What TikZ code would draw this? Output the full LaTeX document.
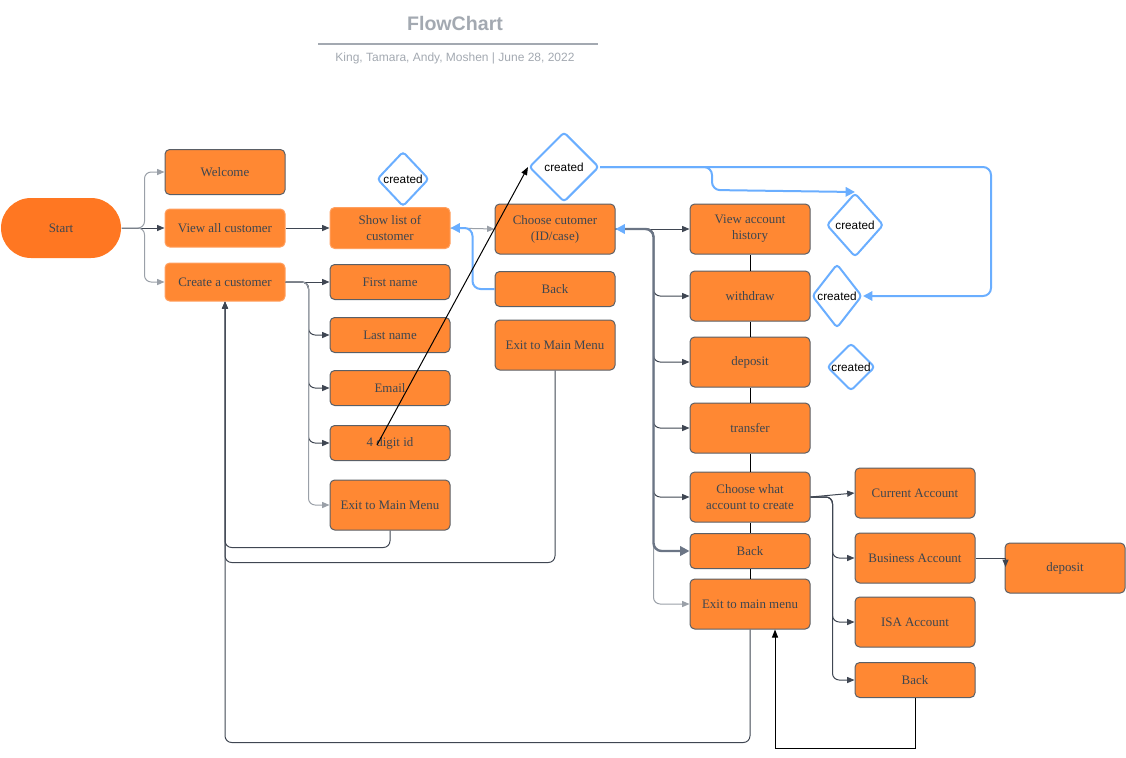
\documentclass[tikz,border=0pt]{standalone}
\usepackage{fontspec}
\setmainfont{Liberation Serif}
\newfontfamily\arialf{Liberation Sans}
\usetikzlibrary{arrows.meta,shapes.geometric}
\definecolor{orf}{HTML}{FF8833}
\definecolor{orl}{HTML}{FFA060}
\definecolor{stf}{HTML}{FF7722}
\definecolor{bd}{HTML}{5A5F66}
\definecolor{txt}{HTML}{3D4650}
\definecolor{lb}{HTML}{6AAEFF}
\definecolor{gl}{HTML}{9AA0A8}
\definecolor{dl}{HTML}{3F4652}
\definecolor{sl}{HTML}{6B7585}
\definecolor{ttl}{HTML}{A3A9B1}
\begin{document}
\begin{tikzpicture}[x=0.75pt,y=-0.75pt,
  box/.style={rectangle, rounded corners=3.5pt, fill=orf, draw=bd, line width=0.75pt,
    minimum width=90pt, minimum height=37.5pt, inner sep=1pt, align=center, text=txt,
    font=\fontsize{9.7}{12}\selectfont},
  lbox/.style={box, draw=orl},
  dia/.style={diamond, draw=lb, line width=1.5pt, rounded corners=2.5pt, fill=white,
    inner sep=0pt, text=black, font=\arialf\fontsize{8.8}{10}\selectfont},
  tip/.style={-{Triangle[length=5.5pt,width=4.5pt]}},
  dconn/.style={tip, draw=dl, line width=0.75pt, rounded corners=5pt},
  gconn/.style={tip, draw=gl, line width=0.75pt, rounded corners=5pt},
  bconn/.style={-{Triangle[length=7pt,width=7pt]}, draw=lb, line width=1.5pt, rounded corners=6pt},
  kline/.style={draw=black, line width=0.75pt}
]
\useasboundingbox (0,0) rectangle (1126,757);

% title
\node[font=\arialf\bfseries\fontsize{14.7}{16}\selectfont, text=ttl] (title) at (455,23) {FlowChart};
\draw[draw=ttl, line width=1pt] (318,44) -- (598,44);
\node[font=\arialf\fontsize{9}{10}\selectfont, text=ttl] (sub) at (455,58) {King, Tamara, Andy, Moshen | June 28, 2022};

% left part
\node[box, fill=stf, draw=none, rounded corners=22.5pt, minimum height=45pt] (Start) at (61,228) {Start};
\node[box, minimum height=33.75pt] (Welcome) at (225,172) {Welcome};
\node[lbox, minimum height=28.5pt] (View) at (225,228) {View all customer};
\node[lbox, minimum height=28.5pt] (Create) at (225,282) {Create a customer};
\node[lbox, minimum height=30.75pt] (Show) at (390,228) {Show list of\\customer};
\node[box, minimum height=26.25pt] (First) at (390,282) {First name};
\node[box, minimum height=26.25pt] (Last) at (390,335) {Last name};
\node[box, minimum height=26.25pt] (Email) at (390,388) {Email};
\node[box, minimum height=26.25pt] (Id) at (390,443) {4 digit id};
\node[box] (ExitA) at (390,505) {Exit to Main Menu};

% middle
\node[box] (Choose) at (555,229) {Choose cutomer\\(ID/case)};
\node[box, minimum height=26.25pt] (BackM) at (555,289) {Back};
\node[box] (ExitB) at (555,345) {Exit to Main Menu};

% right column
\node[box] (Hist) at (750,229) {View account\\history};
\node[box] (Withdraw) at (750,296) {withdraw};
\node[box] (Deposit) at (750,362) {deposit};
\node[box] (Transfer) at (750,428) {transfer};
\node[box] (ChooseW) at (750,497) {Choose what\\account to create};
\node[box, minimum height=26.25pt] (BackR) at (750,551) {Back};
\node[box] (ExitC) at (750,604) {Exit to main menu};

% accounts
\node[box] (Cur) at (915,493) {Current Account};
\node[box] (Bus) at (915,558) {Business Account};
\node[box] (Isa) at (915,622) {ISA Account};
\node[box, minimum height=26.25pt] (BackA) at (915,680) {Back};
\node[box] (DepB) at (1065,568) {deposit};

% diamonds
\node[dia, minimum width=39pt, minimum height=41.25pt] (Cr1) at (403,179) {created};
\node[dia, minimum width=52.5pt, minimum height=52.5pt] (Cr2) at (564,167) {created};
\node[dia, minimum width=42.75pt, minimum height=48pt] (Cr3) at (855,225) {created};
\node[dia, minimum width=37.5pt, minimum height=48pt] (Cr4) at (837,296) {created};
\node[dia, minimum width=36pt, minimum height=27pt] (Cr5) at (851,367) {created};

% start forks
\draw[gconn] (Start.east) -- ++(23,0) |- (Welcome.west);
\draw[dconn] (Start.east) -- (View.west);
\draw[gconn] (Start.east) -- ++(23,0) |- (Create.west);
\draw[dconn] (View.east) -- (Show.west);

% create forks
\draw[dconn] (Create.east) -- (First.west);
\draw[dconn] (Create.east) -- ++(23,0) |- (Last.west);
\draw[dconn] (Create.east) -- ++(23,0) |- (Email.west);
\draw[dconn] (Create.east) -- ++(23,0) |- (Id.west);
\draw[gconn] (Create.east) -- ++(23,0) |- (ExitA.west);

% loops back to create
\draw[dconn] (ExitA.south) -- ++(0,17) -| (Create.south);
\draw[dconn] (ExitB.south) -- ++(0,192) -| (Create.south);
\draw[dconn] (ExitC.south) -- ++(0,113) -| (Create.south);

% show list <-> choose
\draw[gconn] (Show.east) -- (Choose.west);
\draw[bconn] (BackM.west) -- ++(-22,0) |- (Show.east);

% 4 digit id to created
\draw[kline, -{Triangle[length=6pt,width=4.5pt]}] ([xshift=-9.75pt,yshift=-1.5pt]Id.center) -- (Cr2.west);

% blue from big created
\draw[bconn] (Cr2.east) -- ++(391,0) |- (Cr4.east);
\draw[bconn] (Cr2.east) -- ++(112,0) -- ++(0,23) -- (Cr3.north);

% choose customer to right column
\draw[dconn] (Choose.east) -- (Hist.west);
\draw[dconn] (Choose.east) -- ++(38,0) |- (Withdraw.west);
\draw[dconn] (Choose.east) -- ++(38,0) |- (Deposit.west);
\draw[dconn] (Choose.east) -- ++(38,0) |- (Transfer.west);
\draw[dconn] (Choose.east) -- ++(38,0) |- (ChooseW.west);
\draw[gconn] (Choose.east) -- ++(38,0) |- (ExitC.west);
\draw[draw=sl, line width=1.8pt, rounded corners=6pt,
  {Triangle[length=7pt,width=7pt,color=lb]}-{Triangle[length=7pt,width=7pt]}]
  (Choose.east) -- ++(38,0) |- (BackR.west);

% vertical joints
\draw[kline] (Hist.south) -- (Withdraw.north);
\draw[kline] (Withdraw.south) -- (Deposit.north);
\draw[kline] (Deposit.south) -- (Transfer.north);
\draw[kline] (Transfer.south) -- (ChooseW.north);
\draw[kline] (ChooseW.south) -- (BackR.north);
\draw[kline] (BackR.south) -- (ExitC.north);

% accounts
\draw[dconn] (ChooseW.east) -- (Cur.west);
\draw[dconn] (ChooseW.east) -- ++(22,0) |- (Bus.west);
\draw[dconn] (ChooseW.east) -- ++(22,0) |- (Isa.west);
\draw[dconn] (ChooseW.east) -- ++(22,0) |- (BackA.west);
\draw[dconn, rounded corners=0pt] (Bus.east) -- ++(30,0) -- ++(0,9);
\draw[kline, -{Triangle[length=6pt,width=4.5pt]}] (BackA.south) -- ++(0,50) -| ([xshift=18.75pt]ExitC.south);
\end{tikzpicture}
\end{document}
